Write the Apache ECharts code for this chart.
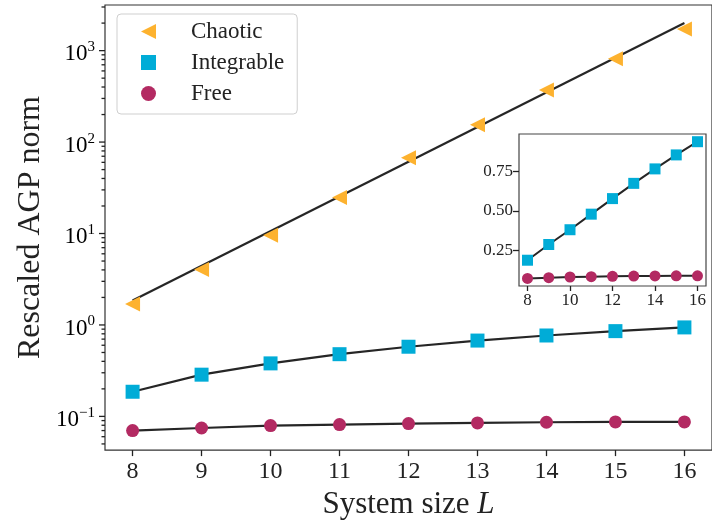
<!DOCTYPE html>
<html>
<head>
<meta charset="utf-8">
<script src="https://cdn.jsdelivr.net/npm/echarts@6/dist/echarts.min.js"></script>
<style>
  html, body { margin: 0; padding: 0; background: #fff; }
  #chart { width: 712px; height: 525px; }
</style>
</head>
<body>
<div id="chart"></div>
<script>
// System sizes L
const sizes = [8, 9, 10, 11, 12, 13, 14, 15, 16];

// Rescaled AGP norm for each model
const chaotic    = [1.69, 4.05, 9.56, 24.7, 67.5, 155, 371, 813, 1719];
const integrable = [0.186, 0.286, 0.380, 0.479, 0.578, 0.675, 0.767, 0.856, 0.940];
const free       = [0.070, 0.0747, 0.0793, 0.0813, 0.0834, 0.0849, 0.0863, 0.0871, 0.0871];

// Exponential fit for the chaotic model (end points)
const chaoticFitL = [8, 16];
const chaoticFit  = [1.85, 2010];

// Tick values
const mainXTicks  = [8, 9, 10, 11, 12, 13, 14, 15, 16];
const mainYMajor  = [0.1, 1, 10, 100, 1000];
const insetXTicks = [8, 10, 12, 14, 16];
const insetYTicks = [0.25, 0.5, 0.75];

// Axis ranges
const X_MIN = 7.6, X_MAX = 16.4;
const Y_MIN = 0.0428, Y_MAX = 3155;
const INSET_Y_MIN = 0.022, INSET_Y_MAX = 0.989;

const FONT = '"Liberation Serif", "DejaVu Serif", serif';
const INK = '#222';
const TICK = '#222';
const FIT = '#262626';
const C_CHAOTIC = '#FDB22F';
const C_INTEG = '#00ACD7';
const C_FREE = '#B32A62';
const TRI_LEFT = 'path://M0,5 L10,0 L10,10 Z';

// Log-axis minor ticks: 2..9 within each decade
const mainYMinor = [];
[0.01, 0.1, 1, 10, 100, 1000].forEach(function (d) {
  for (let k = 2; k <= 9; k++) {
    const v = +(d * k).toPrecision(3);
    if (v > Y_MIN && v < Y_MAX) mainYMinor.push(v);
  }
});
const yTickData = mainYMajor.map(v => [X_MIN, v, 1]).concat(mainYMinor.map(v => [X_MIN, v, 0]));

const zip = (xs, ys) => xs.map((x, i) => [x, ys[i]]);

const chart = echarts.init(document.getElementById('chart'), null, { renderer: 'canvas' });

const option = {
  backgroundColor: '#fff',
  animation: false,
  textStyle: { fontFamily: FONT },
  legend: {
    orient: 'vertical',
    left: 117,
    top: 14,
    data: ['Chaotic', 'Integrable', 'Free'],
    itemWidth: 15,
    itemHeight: 15,
    itemGap: 8,
    padding: [6, 13, 9, 24],
    backgroundColor: 'rgba(255,255,255,0.85)',
    borderColor: '#cfcfcf',
    borderWidth: 1,
    borderRadius: 4,
    selectedMode: false,
    textStyle: { fontFamily: FONT, fontSize: 23, lineHeight: 23, color: INK, padding: [0, 0, 0, 30] }
  },
  grid: [
    { left: 105, top: 5, right: -9, bottom: 71, show: true, borderColor: '#333', borderWidth: 1.2, backgroundColor: 'transparent' },
    { left: 519, top: 134, right: 6, bottom: 239, show: true, borderColor: '#444', borderWidth: 1.2, backgroundColor: '#fff' }
  ],
  xAxis: [
    {
      gridIndex: 0, type: 'value', min: X_MIN, max: X_MAX,
      axisLine: { show: false },
      splitLine: { show: false },
      axisTick: { show: true, customValues: mainXTicks, length: 6, lineStyle: { color: TICK, width: 1.3 } },
      axisLabel: { customValues: mainXTicks, fontFamily: FONT, fontSize: 24, color: INK, margin: 10 },
      name: '{n|System size }{i|L}',
      nameLocation: 'middle',
      nameGap: 37,
      nameTextStyle: {
        rich: {
          n: { fontFamily: FONT, fontSize: 31, color: INK },
          i: { fontFamily: FONT, fontSize: 31, fontStyle: 'italic', color: INK }
        }
      }
    },
    {
      gridIndex: 1, type: 'value', min: X_MIN, max: X_MAX,
      axisLine: { show: false },
      splitLine: { show: false },
      axisTick: { show: true, customValues: insetXTicks, length: 5, lineStyle: { color: TICK, width: 1.3 } },
      axisLabel: { customValues: insetXTicks, fontFamily: FONT, fontSize: 17, color: INK, margin: 6 }
    }
  ],
  yAxis: [
    {
      gridIndex: 0, type: 'log', logBase: 10, min: Y_MIN, max: Y_MAX,
      axisLine: { show: false },
      splitLine: { show: false },
      minorTick: { show: false },
      axisTick: { show: false },
      axisLabel: { show: false },
      name: 'Rescaled AGP norm',
      nameLocation: 'middle',
      nameRotate: 90,
      nameGap: 58,
      nameTextStyle: { fontFamily: FONT, fontSize: 32, color: INK }
    },
    {
      gridIndex: 1, type: 'value', min: INSET_Y_MIN, max: INSET_Y_MAX,
      axisLine: { show: false },
      splitLine: { show: false },
      axisTick: { show: true, customValues: insetYTicks, length: 6, lineStyle: { color: TICK, width: 1.3 } },
      axisLabel: { customValues: insetYTicks, fontFamily: FONT, fontSize: 17, color: INK, margin: 6,
                   formatter: v => v.toFixed(2) }
    }
  ],
  series: [
    // main panel: fit lines
    { type: 'line', xAxisIndex: 0, yAxisIndex: 0, data: zip(chaoticFitL, chaoticFit), symbol: 'none',
      lineStyle: { color: FIT, width: 2.2 }, z: 2, silent: true },
    { type: 'line', xAxisIndex: 0, yAxisIndex: 0, data: zip(sizes, integrable), symbol: 'none',
      lineStyle: { color: FIT, width: 2.2 }, z: 2, silent: true },
    { type: 'line', xAxisIndex: 0, yAxisIndex: 0, data: zip(sizes, free), symbol: 'none',
      lineStyle: { color: FIT, width: 2.2 }, z: 2, silent: true },
    // main panel: markers
    { name: 'Chaotic', type: 'scatter', xAxisIndex: 0, yAxisIndex: 0, data: zip(sizes, chaotic),
      symbol: TRI_LEFT, symbolSize: [15, 15], itemStyle: { color: C_CHAOTIC, opacity: 1 }, z: 3 },
    { name: 'Integrable', type: 'scatter', xAxisIndex: 0, yAxisIndex: 0, data: zip(sizes, integrable),
      symbol: 'rect', symbolSize: 14, itemStyle: { color: C_INTEG, opacity: 1 }, z: 3 },
    { name: 'Free', type: 'scatter', xAxisIndex: 0, yAxisIndex: 0, data: zip(sizes, free),
      symbol: 'circle', symbolSize: 13, itemStyle: { color: C_FREE, opacity: 1 }, z: 3 },
    // inset panel (linear scale)
    { type: 'line', xAxisIndex: 1, yAxisIndex: 1, data: zip(sizes, integrable), symbol: 'none',
      lineStyle: { color: FIT, width: 2 }, z: 4, silent: true },
    { type: 'line', xAxisIndex: 1, yAxisIndex: 1, data: zip(sizes, free), symbol: 'none',
      lineStyle: { color: FIT, width: 2 }, z: 4, silent: true },
    { name: 'Integrable', type: 'scatter', xAxisIndex: 1, yAxisIndex: 1, data: zip(sizes, integrable),
      symbol: 'rect', symbolSize: 11, itemStyle: { color: C_INTEG, opacity: 1 }, z: 5 },
    { name: 'Free', type: 'scatter', xAxisIndex: 1, yAxisIndex: 1, data: zip(sizes, free),
      symbol: 'circle', symbolSize: 11, itemStyle: { color: C_FREE, opacity: 1 }, z: 5 },
    // log-axis ticks and 10^n labels on the main panel
    {
      type: 'custom', xAxisIndex: 0, yAxisIndex: 0, silent: true, z: 6, clip: false,
      data: yTickData,
      encode: { x: 0, y: 1 },
      renderItem: function (params, api) {
        const p = api.coord([api.value(0), api.value(1)]);
        const major = api.value(2) === 1;
        const len = major ? 6 : 3.5;
        const kids = [{
          type: 'rect',
          shape: { x: p[0] - len, y: p[1] - 0.65, width: len, height: 1.3 },
          style: { fill: TICK }
        }];
        if (major) {
          const e = Math.round(Math.log10(api.value(1)));
          const exp = e < 0 ? '\u2212' + (-e) : String(e);
          kids.push({
            type: 'text',
            x: p[0] - len - 4,
            y: p[1] + 2,
            style: {
              text: '{b|10}{s|' + exp + '}',
              align: 'right',
              verticalAlign: 'middle',
              rich: {
                b: { fontFamily: FONT, fontSize: 23, lineHeight: 26, color: INK, verticalAlign: 'bottom' },
                s: { fontFamily: FONT, fontSize: 15, lineHeight: 15, color: INK, verticalAlign: 'top' }
              }
            }
          });
        }
        return { type: 'group', children: kids };
      }
    }
  ]
};

chart.setOption(option);
</script>
</body>
</html>
